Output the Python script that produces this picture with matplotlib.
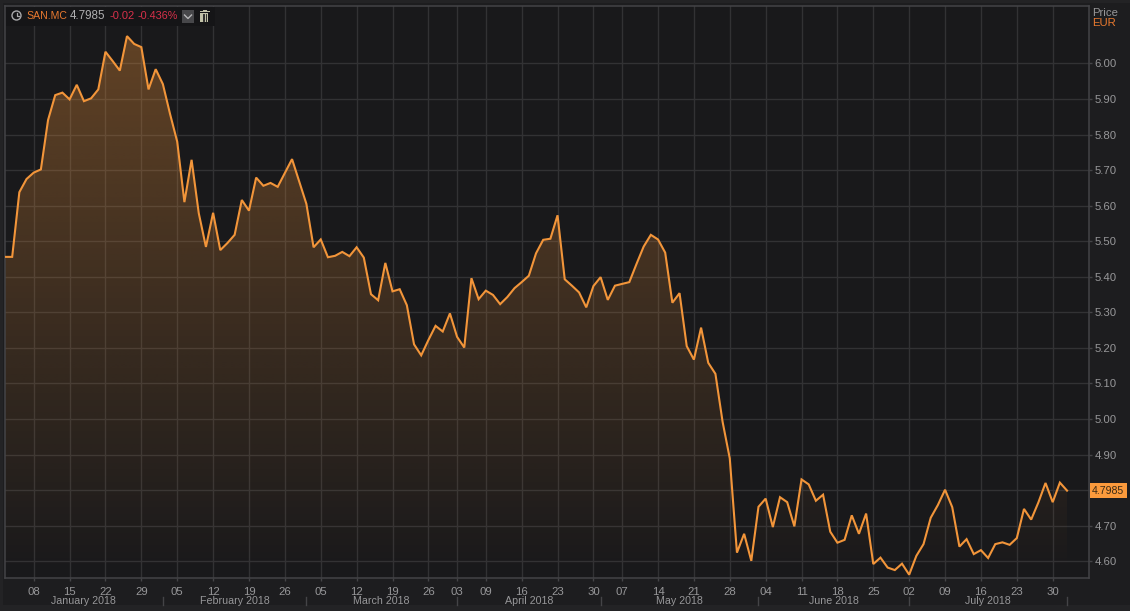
import numpy as np
import matplotlib
matplotlib.use("Agg")
import matplotlib.pyplot as plt
from matplotlib.patches import Rectangle, Ellipse, Polygon
from matplotlib.lines import Line2D
from matplotlib.transforms import IdentityTransform

prices = [5.456, 5.456, 5.638, 5.675, 5.693, 5.702, 5.841, 5.911, 5.918, 5.899,
          5.940, 5.894, 5.902, 5.927, 6.033, 6.007, 5.980, 6.077, 6.055, 6.046,
          5.927, 5.984, 5.942, 5.858, 5.780, 5.610, 5.729, 5.579, 5.484, 5.580,
          5.475, 5.495, 5.518, 5.616, 5.586, 5.679, 5.656, 5.664, 5.653, 5.692,
          5.731, 5.668, 5.605, 5.483, 5.505, 5.455, 5.459, 5.470, 5.458, 5.483,
          5.454, 5.351, 5.334, 5.439, 5.359, 5.365, 5.320, 5.210, 5.179, 5.222,
          5.262, 5.246, 5.297, 5.231, 5.201, 5.396, 5.337, 5.361, 5.349, 5.323,
          5.343, 5.368, 5.385, 5.403, 5.466, 5.504, 5.507, 5.573, 5.393, 5.375,
          5.356, 5.314, 5.374, 5.399, 5.335, 5.375, 5.380, 5.385, 5.436, 5.485,
          5.518, 5.505, 5.468, 5.327, 5.354, 5.205, 5.167, 5.257, 5.158, 5.127,
          4.992, 4.889, 4.624, 4.677, 4.601, 4.753, 4.776, 4.696, 4.780, 4.766,
          4.698, 4.830, 4.816, 4.770, 4.787, 4.683, 4.652, 4.660, 4.729, 4.677,
          4.734, 4.592, 4.610, 4.582, 4.575, 4.593, 4.562, 4.615, 4.648, 4.722,
          4.758, 4.801, 4.752, 4.641, 4.662, 4.620, 4.631, 4.609, 4.648, 4.653,
          4.646, 4.665, 4.747, 4.717, 4.765, 4.820, 4.766, 4.821, 4.7985]
week_labels = ["08", "15", "22", "29", "05", "12", "19", "26", "05", "12", "19", "26",
               "03", "09", "16", "23", "30", "07", "14", "21", "28", "04", "11", "18",
               "25", "02", "09", "16", "23", "30"]
week_index = [4, 9, 14, 19, 24, 29, 34, 39, 44, 49, 54, 59, 63, 67, 72, 77, 82, 86,
              91, 96, 101, 106, 111, 116, 121, 126, 131, 136, 141, 146]
month_labels = ["January 2018", "February 2018", "March 2018", "April 2018",
                "May 2018", "June 2018", "July 2018"]
month_end_index = [22, 42, 63, 83, 105, 126, 148]
price_ticks = [4.60, 4.70, 4.80, 4.90, 5.00, 5.10, 5.20, 5.30, 5.40, 5.50,
               5.60, 5.70, 5.80, 5.90, 6.00]

W, H = 1130, 611
FIG_BG, PLOT_BG, STRIP = "#1d1d1f", "#19191b", "#232325"
GRID, AXLINE = "#323234", "#444447"
ORANGE, TXT = "#f2953a", "#979799"
plt.rcParams["font.family"] = ["Liberation Sans", "DejaVu Sans"]

fig = plt.figure(figsize=(W / 100, H / 100), dpi=100, facecolor=FIG_BG)
L, R, T, B = 5, 1089, 6, 578
ax = fig.add_axes([L / W, 1 - B / H, (R - L) / W, (B - T) / H], facecolor=PLOT_BG)
XLIM = (0, (R - L) / 7.176)
YLIM = (4.5527, 6.1617)
ax.set_xlim(*XLIM)
ax.set_ylim(*YLIM)


def px(x, y):
    return x / W, 1 - y / H


def ftext(x, y, s, **kw):
    kw.setdefault("va", "center")
    kw.setdefault("fontsize", 8.2)
    fig.text(*px(x, y), s, **kw)


def frect(x0, y0, x1, y1, **kw):
    kw.setdefault("linewidth", 0)
    fig.add_artist(Rectangle(px(x0, y1), (x1 - x0) / W, (y1 - y0) / H,
                             transform=fig.transFigure, **kw))


def fline(xs, ys, color, lw=1.0):
    fig.add_artist(Line2D([v / W for v in xs], [1 - v / H for v in ys],
                          transform=fig.transFigure, color=color, lw=lw, zorder=6))


# outer frame strips
frect(0, 0, 3, H, facecolor=STRIP, zorder=0)
frect(0, 605, W, H, facecolor=STRIP, zorder=0)
frect(0, 0, W, 3, facecolor=STRIP, zorder=0)

x = np.arange(len(prices))
y = np.array(prices)

# grid
ax.set_axisbelow(True)
ax.grid(True, color=GRID, lw=1.0)

# gradient area
grad = np.zeros((256, 2, 4))
grad[..., 0] = 0xf2 / 255
grad[..., 1] = 0x95 / 255
grad[..., 2] = 0x3a / 255
grad[..., 3] = np.linspace(0.34, 0.0, 256)[:, None]
im = ax.imshow(grad, extent=(0, len(prices) - 1, YLIM[0], 6.1), aspect="auto",
               origin="upper", zorder=1.5, interpolation="bilinear")
ax.set_xlim(*XLIM)
ax.set_ylim(*YLIM)
poly = Polygon(np.vstack([[0, YLIM[0]], np.column_stack([x, y]), [x[-1], YLIM[0]]]),
               closed=True, transform=ax.transData, facecolor="none", edgecolor="none")
ax.add_patch(poly)
im.set_clip_path(poly)

ax.plot(x, y, color=ORANGE, lw=1.5, zorder=3, solid_joinstyle="miter")

# axes frame and ticks
for side in ("left", "top", "right", "bottom"):
    ax.spines[side].set_color(AXLINE)
    ax.spines[side].set_linewidth(1.1)
ax.yaxis.tick_right()
# the 4.80 label sits under the last-price tag, as in the source chart
ax.set_yticks(price_ticks, ["" if abs(v - 4.80) < 1e-6 else f"{v:.2f}" for v in price_ticks])
ax.set_xticks(week_index, week_labels)
ax.tick_params(axis="y", colors=TXT, length=2, width=1, pad=2, labelsize=8.2, color=AXLINE)
ax.tick_params(axis="x", colors=TXT, length=2, width=1, pad=4.5, labelsize=8.2, color=AXLINE)

# month row: dividers and centred labels
trans = ax.get_xaxis_transform()
prev = 0
for name, end in zip(month_labels, month_end_index):
    ax.plot([end, end], [-0.033, -0.047], transform=trans, color=AXLINE, lw=1, clip_on=False)
    ax.text((prev + end) / 2, -0.0402, name, transform=trans,
            ha="center", va="center", color=TXT, fontsize=7.7, clip_on=False)
    prev = end

# axis header
ftext(1092, 13, "Price", color=TXT, fontsize=8.2)
ftext(1092, 23, "EUR", color="#e8792f", fontsize=8.2)

# last price tag
frect(1090, 483, 1127, 498, facecolor="#fb9a3c", zorder=4)
ftext(1108, 490.8, f"{prices[-1]:.4f}", color="#3a2a15", fontsize=7.6, ha="center", zorder=5)

# legend bar
frect(6, 7, 215, 26, facecolor="#151517", zorder=4)
fig.add_artist(Ellipse((16.5, H - 15.5), 9, 9, transform=IdentityTransform(),
                       fill=False, edgecolor="#a9a9ab", lw=1, zorder=6))
fline([16.5, 16.5, 19], [12.6, 16, 16], "#a9a9ab", 0.9)
ftext(26, 16, "SAN.MC", color="#e8792f", zorder=5, fontsize=7.6)
ftext(70, 16, f"{prices[-1]:.4f}", color="#aeaeb0", zorder=5, fontsize=8.4)
ftext(109, 16, "-0.02", color="#d8304a", zorder=5, fontsize=8)
ftext(138, 16, "-0.436%", color="#d8304a", zorder=5, fontsize=7.8)
frect(181.5, 9.5, 194, 23, facecolor="#47474a", zorder=5)
fline([184.5, 188, 191.5], [15, 18.5, 15], "#b5b5b7", 1.0)
frect(200.5, 13, 208.5, 21.5, facecolor="#c2c2a8", zorder=5)
frect(199.5, 11, 209.5, 12.4, facecolor="#c2c2a8", zorder=5)
frect(202.5, 9.8, 206.5, 11, facecolor="#c2c2a8", zorder=5)
for xv in (202.8, 204.5, 206.2):
    fline([xv, xv], [14, 20.5], "#151517", 0.6)

fig.savefig("out.png", dpi=100, facecolor=FIG_BG)
